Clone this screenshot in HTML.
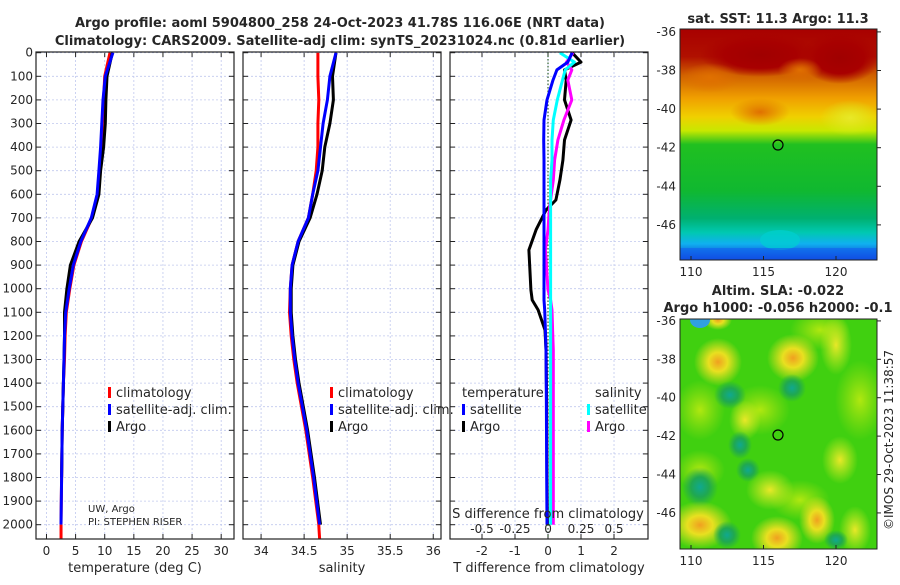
<!DOCTYPE html>
<html><head><meta charset="utf-8"><style>
body{margin:0;background:#fff}
svg text{font-family:"DejaVu Sans","Liberation Sans",sans-serif;fill:#262626}
</style></head><body>
<svg id="fig" width="900" height="580" viewBox="0 0 900 580" xmlns="http://www.w3.org/2000/svg">
<defs>
<linearGradient id="sstg" x1="0" y1="0" x2="0" y2="1">
<stop offset="0" stop-color="#a80000"/><stop offset="0.12" stop-color="#b01000"/>
<stop offset="0.2" stop-color="#d06000"/><stop offset="0.3" stop-color="#f0a000"/>
<stop offset="0.38" stop-color="#f0d000"/><stop offset="0.44" stop-color="#c8e800"/>
<stop offset="0.5" stop-color="#20c020"/><stop offset="0.7" stop-color="#10b830"/>
<stop offset="0.82" stop-color="#00b070"/><stop offset="0.88" stop-color="#00c8b0"/>
<stop offset="0.93" stop-color="#10b0f0"/><stop offset="1" stop-color="#1030d0"/>
</linearGradient>
<radialGradient id="yb"><stop offset="0" stop-color="#f0a020"/><stop offset="0.4" stop-color="#e8e020"/><stop offset="1" stop-color="#e8e020" stop-opacity="0"/></radialGradient>
<radialGradient id="yl"><stop offset="0" stop-color="#e8e828"/><stop offset="1" stop-color="#d8ee20" stop-opacity="0"/></radialGradient>
<radialGradient id="lg"><stop offset="0" stop-color="#b0e810"/><stop offset="1" stop-color="#a0e010" stop-opacity="0"/></radialGradient>
<radialGradient id="tb"><stop offset="0" stop-color="#10a890"/><stop offset="0.5" stop-color="#20a850"/><stop offset="1" stop-color="#20a850" stop-opacity="0"/></radialGradient>
<radialGradient id="dr"><stop offset="0" stop-color="#a00000"/><stop offset="0.6" stop-color="#a80000"/><stop offset="1" stop-color="#a80000" stop-opacity="0"/></radialGradient>
<radialGradient id="or"><stop offset="0" stop-color="#e07000"/><stop offset="1" stop-color="#e07000" stop-opacity="0"/></radialGradient>
<clipPath id="c1"><rect x="680" y="29" width="197" height="231"/></clipPath>
<clipPath id="c2"><rect x="680" y="319" width="197" height="230"/></clipPath>
</defs>
<text x="340" y="27" text-anchor="middle" font-size="13" font-weight="bold" fill="#000">Argo profile: aoml 5904800_258 24-Oct-2023 41.78S 116.06E (NRT data)</text>
<text x="340" y="45" text-anchor="middle" font-size="13" font-weight="bold" fill="#000">Climatology: CARS2009. Satellite-adj clim: synTS_20231024.nc (0.81d earlier)</text>
<g id="panels"></g>
<g id="maps">
<text x="778" y="23" text-anchor="middle" font-size="13" font-weight="bold" fill="#000">sat. SST: 11.3 Argo: 11.3</text>
<g clip-path="url(#c1)">
<rect x="680" y="29" width="197" height="231" fill="url(#sstg)"/>
<ellipse cx="760" cy="55" rx="60" ry="22" fill="url(#dr)"/>
<ellipse cx="840" cy="58" rx="40" ry="26" fill="url(#dr)"/>
<ellipse cx="710" cy="78" rx="30" ry="15" fill="url(#or)"/>
<ellipse cx="800" cy="70" rx="22" ry="12" fill="url(#or)"/>
<ellipse cx="760" cy="112" rx="30" ry="14" fill="url(#or)"/>
<ellipse cx="850" cy="118" rx="30" ry="18" fill="url(#yl)"/>
<ellipse cx="780" cy="240" rx="20" ry="10" fill="#00d0d0" opacity="0.7"/>
<rect x="680" y="248" width="197" height="12" fill="#1060f0" opacity="0.6"/>
</g>
<rect x="680" y="29" width="197" height="231" fill="none" stroke="#222" stroke-width="1"/>
<circle cx="778" cy="145" r="5" fill="none" stroke="#000" stroke-width="1.2"/>
<text x="778" y="295" text-anchor="middle" font-size="13" font-weight="bold" fill="#000">Altim. SLA: -0.022</text>
<text x="778" y="312" text-anchor="middle" font-size="13" font-weight="bold" fill="#000">Argo h1000: -0.056 h2000: -0.1</text>
<g clip-path="url(#c2)">
<rect x="680" y="319" width="197" height="230" fill="#40d010"/>
<ellipse cx="700" cy="410" rx="25" ry="30" fill="url(#lg)"/>
<ellipse cx="760" cy="410" rx="30" ry="25" fill="url(#lg)"/>
<ellipse cx="860" cy="400" rx="25" ry="40" fill="url(#lg)"/>
<ellipse cx="820" cy="330" rx="30" ry="20" fill="url(#lg)"/>
<ellipse cx="700" cy="470" rx="25" ry="20" fill="url(#lg)"/>
<ellipse cx="800" cy="500" rx="30" ry="20" fill="url(#lg)"/>
<ellipse cx="718" cy="362" rx="24" ry="24" fill="url(#yb)"/>
<ellipse cx="793" cy="358" rx="26" ry="24" fill="url(#yb)"/>
<ellipse cx="836" cy="345" rx="16" ry="30" fill="url(#yl)"/>
<ellipse cx="718" cy="320" rx="14" ry="10" fill="url(#yb)"/>
<ellipse cx="700" cy="320" rx="10" ry="8" fill="#30a0e0"/>
<ellipse cx="730" cy="395" rx="16" ry="14" fill="url(#tb)"/>
<ellipse cx="792" cy="388" rx="14" ry="14" fill="url(#tb)"/>
<ellipse cx="745" cy="420" rx="16" ry="20" fill="url(#yl)"/>
<ellipse cx="740" cy="445" rx="12" ry="14" fill="url(#tb)"/>
<ellipse cx="748" cy="470" rx="12" ry="12" fill="url(#tb)"/>
<ellipse cx="840" cy="460" rx="18" ry="24" fill="url(#yl)"/>
<ellipse cx="700" cy="487" rx="18" ry="20" fill="url(#tb)"/>
<ellipse cx="770" cy="490" rx="24" ry="20" fill="url(#yl)"/>
<ellipse cx="700" cy="525" rx="32" ry="24" fill="url(#yb)"/>
<ellipse cx="777" cy="538" rx="26" ry="22" fill="url(#yb)"/>
<ellipse cx="817" cy="520" rx="18" ry="24" fill="url(#yb)"/>
<ellipse cx="855" cy="530" rx="16" ry="24" fill="url(#yl)"/>
<ellipse cx="727" cy="535" rx="14" ry="14" fill="url(#tb)"/>
<ellipse cx="836" cy="540" rx="12" ry="10" fill="url(#tb)"/>
</g>
<rect x="680" y="319" width="197" height="230" fill="none" stroke="#222" stroke-width="1"/>
<circle cx="778" cy="435" r="5" fill="none" stroke="#000" stroke-width="1.2"/>
<text transform="translate(893,440) rotate(-90)" text-anchor="middle" font-size="12">©IMOS 29-Oct-2023 11:38:57</text>
</g>
</svg>
<script>
const depthTicks=[0,100,200,300,400,500,600,700,800,900,1000,1100,1200,1300,1400,1500,1600,1700,1800,1900,2000];
const tTicks=[0,5,10,15,20,25,30];
const sTicks=[34,34.5,35,35.5,36];
const dTTicks=[-2,-1,0,1,2];
const dSTicks=[-0.5,-0.25,0,0.25,0.5];
const dSTickLabels=["-0.5","-0.25","0","0.25","0.5"];
const depths=[0,100,200,300,400,500,600,700,800,900,1000,1100,1200,1300,1400,1500,1600,1800,2000];
const tClim=[10.9,10.0,9.8,9.6,9.5,9.1,8.8,7.8,6.0,4.7,4.0,3.4,3.2,3.1,2.9,2.8,2.7,2.6,2.5];
const tSat=[11.4,10.1,9.7,9.5,9.3,9.0,8.7,7.7,5.9,4.6,3.9,3.3,3.1,3.0,2.9,2.8,2.7,2.6,2.5];
const tArgo=[11.3,10.4,10.2,10.1,9.8,9.3,9.0,7.9,5.6,4.1,3.5,3.1,3.1,3.0,2.9,2.8,2.7,2.6,2.5];
const sClim=[34.66,34.66,34.67,34.66,34.66,34.64,34.6,34.55,34.43,34.36,34.34,34.33,34.35,34.38,34.42,34.47,34.52,34.6,34.67];
const sSat=[34.87,34.8,34.77,34.72,34.69,34.66,34.6,34.55,34.43,34.36,34.34,34.34,34.36,34.39,34.43,34.48,34.53,34.61,34.68];
const sArgo=[34.87,34.83,34.84,34.8,34.74,34.71,34.65,34.57,34.44,34.37,34.35,34.35,34.37,34.4,34.44,34.49,34.54,34.62,34.69];
const dDepths=[0,40,73,116,200,285,370,455,540,624,667,750,836,920,1005,1048,1090,1175,1260,1500,1800,2000];
const dTSat=[0.73,0.6,0.27,0.15,-0.03,-0.12,-0.13,-0.12,-0.12,-0.12,-0.12,-0.12,-0.12,-0.12,-0.12,-0.12,-0.1,-0.08,-0.06,-0.05,-0.04,-0.03];
const dTArgo=[0.73,1.0,0.5,0.55,0.5,0.7,0.5,0.45,0.36,0.24,-0.06,-0.36,-0.58,-0.55,-0.52,-0.48,-0.3,-0.09,-0.06,-0.04,-0.03,-0.02];
const dSSat=[0.09,0.2,0.13,0.11,0.07,0.04,0.03,0.03,0.02,0.02,0.02,0.02,0.02,0.02,0.02,0.02,0.02,0.02,0.02,0.02,0.02,0.02];
const dSArgo=[0.19,0.14,0.18,0.15,0.18,0.12,0.075,0.05,0.04,0.02,0.01,0.0,-0.02,-0.01,0.0,0.02,0.03,0.035,0.04,0.04,0.04,0.04];
const lonTicks=[110,115,120];
const latTicks=[-36,-38,-40,-42,-44,-46];

const NS='http://www.w3.org/2000/svg';
const root=document.getElementById('panels');
function mk(tag,attrs,parent){const e=document.createElementNS(NS,tag);for(const k in attrs)e.setAttribute(k,attrs[k]);(parent||root).appendChild(e);return e;}
const Y0=52.7,YS=0.236,YB=539;
function yD(d){return Y0+d*YS;}
function panel(name,x0,x1,dmin,dmax,ticks,labels,xlabel,showY){
  const g=mk('g',{});
  
  
  const xs=v=>x0+(v-dmin)/(dmax-dmin)*(x1-x0);
  ticks.forEach(t=>{mk('line',{x1:xs(t),x2:xs(t),y1:52,y2:YB,stroke:'#c0c8ee','stroke-width':0.8,'stroke-dasharray':'2,2'},g);
    mk('line',{x1:xs(t),x2:xs(t),y1:YB,y2:YB-5,stroke:'#222'},g);mk('line',{x1:xs(t),x2:xs(t),y1:52,y2:57,stroke:'#222'},g);});
  depthTicks.forEach(d=>{mk('line',{x1:x0,x2:x1,y1:yD(d),y2:yD(d),stroke:'#c0c8ee','stroke-width':0.8,'stroke-dasharray':'2,2'},g);
    mk('line',{x1:x0,x2:x0+5,y1:yD(d),y2:yD(d),stroke:'#222'},g);mk('line',{x1:x1,x2:x1-5,y1:yD(d),y2:yD(d),stroke:'#222'},g);
    if(showY){const t=mk('text',{x:33,y:yD(d)+4,'text-anchor':'end','font-size':12},g);t.textContent=d;}});
  if(labels){ticks.forEach((t,i)=>{const e=mk('text',{x:xs(t),y:555,'text-anchor':'middle','font-size':12},g);e.textContent=labels[i];
    });}
  const xl=mk('text',{x:(x0+x1)/2,y:572,'text-anchor':'middle','font-size':13},g);xl.textContent=xlabel;
  
  return {g,xs};
}
function line(g,xs,xv,dv,color,name,w){
  const pts=xv.map((v,i)=>xs(v).toFixed(1)+','+yD(dv[i]).toFixed(1)).join(' ');
  const p=mk('polyline',{points:pts,fill:'none',stroke:color,'stroke-width':w||3,'stroke-linejoin':'round'},g);
  
  
}
function frame(g,x0,x1){mk('rect',{x:x0,y:52,width:x1-x0,height:YB-52,fill:'none',stroke:'#222','stroke-width':1.2},g);}
function legend(g,x,y,items){items.forEach((it,i)=>{
  if(it[0])mk('rect',{x:x,y:y+i*17-9,width:3,height:11,fill:it[0]},g);
  const t=mk('text',{x:x+(it[0]?8:0),y:y+i*17+1,'font-size':13},g);t.textContent=it[1];
  });}

let P=panel('temperature-panel',36,234,-1.8,32.2,tTicks,tTicks.map(String),'temperature (deg C)',true);
line(P.g,P.xs,tClim,depths,'#ff0000','temperature-climatology-line');
line(P.g,P.xs,tArgo.slice(0,18),depths.slice(0,18),'#000','temperature-argo-line');
line(P.g,P.xs,tSat,depths,'#0000ff','temperature-satellite-line');
mk('line',{x1:P.xs(2.5),x2:P.xs(2.5),y1:yD(2000),y2:YB,stroke:'#f00','stroke-width':3},P.g);
frame(P.g,36,234);
legend(P.g,108,396,[['#f00','climatology'],['#00f','satellite-adj. clim.'],['#000','Argo']]);
let t1=mk('text',{x:88,y:512,'font-size':10},P.g);t1.textContent='UW, Argo';
let t2=mk('text',{x:88,y:525,'font-size':10},P.g);t2.textContent='PI: STEPHEN RISER';

P=panel('salinity-panel',243,441,33.79,36.09,sTicks,sTicks.map(String),'salinity',false);
line(P.g,P.xs,sClim,depths,'#ff0000','salinity-climatology-line');
line(P.g,P.xs,sArgo,depths,'#000','salinity-argo-line');
line(P.g,P.xs,sSat,depths,'#0000ff','salinity-satellite-line');
mk('line',{x1:P.xs(34.67),x2:P.xs(34.68),y1:yD(2000),y2:YB,stroke:'#f00','stroke-width':3},P.g);
frame(P.g,243,441);
legend(P.g,330,396,[['#f00','climatology'],['#00f','satellite-adj. clim.'],['#000','Argo']]);

P=panel('difference-panel',450,648,-2.97,3.03,dTTicks,dTTicks.map(String),'T difference from climatology',false);
const xsS=v=>P.xs(v*4);
mk('line',{x1:P.xs(0),x2:P.xs(0),y1:52,y2:YB,stroke:'#306030','stroke-width':1.2,'stroke-dasharray':'1.5,2'},P.g);
line(P.g,P.xs,dTArgo,dDepths,'#000','t-diff-argo-line');
line(P.g,xsS,dSArgo,dDepths,'#ff00ff','s-diff-argo-line');
line(P.g,xsS,dSSat,dDepths,'#00ffff','s-diff-satellite-line');
line(P.g,P.xs,dTSat,dDepths,'#0000ff','t-diff-satellite-line');
frame(P.g,450,648);
legend(P.g,462,396,[[null,'temperature']]);
legend(P.g,462,413,[['#00f','satellite'],['#000','Argo']]);
legend(P.g,595,396,[[null,'salinity']]);
legend(P.g,587,413,[['#0ff','satellite'],['#f0f','Argo']]);
let st=mk('text',{x:548,y:518,'text-anchor':'middle','font-size':13},P.g);st.textContent='S difference from climatology';

dSTicks.forEach((v,i)=>{const e=mk('text',{x:xsS(v),y:533,'text-anchor':'middle','font-size':12},P.g);e.textContent=dSTickLabels[i];
  });

const maps=document.getElementById('maps');
const lonX=v=>691+(v-110)*14.5;
[[260,-35.85,29,38.6],[549,-35.9,319,38.4]].forEach(m=>{
  lonTicks.forEach(v=>{mk('line',{x1:lonX(v),x2:lonX(v),y1:m[0],y2:m[0]-4,stroke:'#222'},maps);
    const e=mk('text',{x:lonX(v),y:m[0]+16,'text-anchor':'middle','font-size':12},maps);e.textContent=v;
    });
  latTicks.forEach(v=>{
    const yv=m[2]+(m[1]-v)*(m[3]/2);
    mk('line',{x1:877,x2:881,y1:yv,y2:yv,stroke:'#222'},maps);
    const e=mk('text',{x:676,y:yv+4,'text-anchor':'end','font-size':12},maps);e.textContent=v;
    });
});
</script>
</body></html>
